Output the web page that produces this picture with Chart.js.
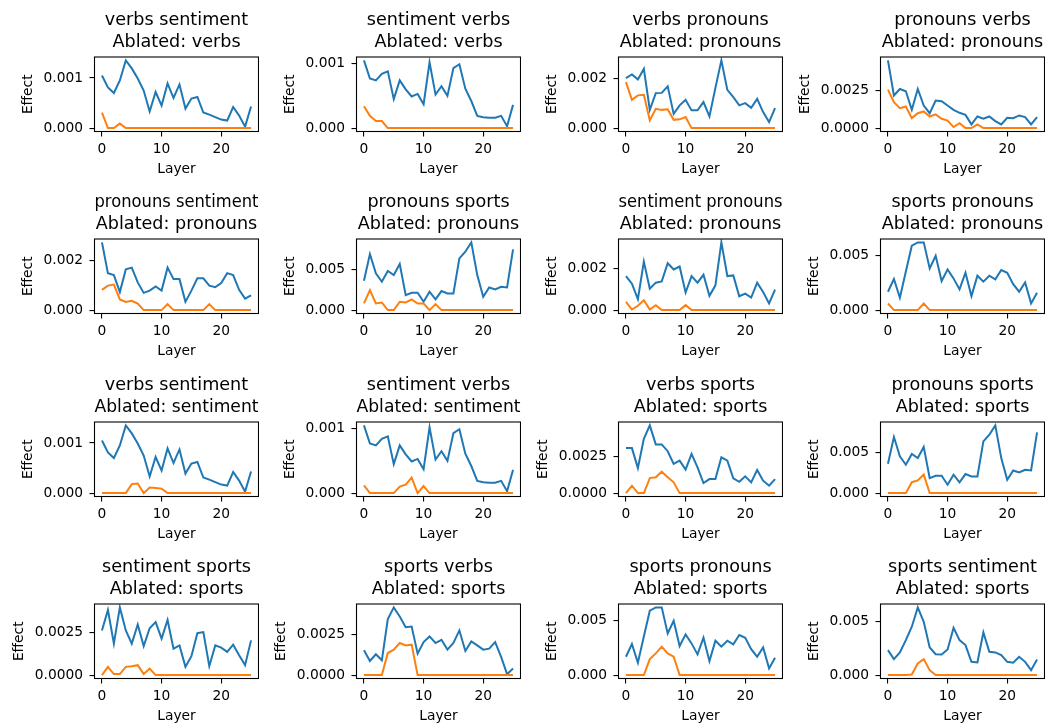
<!DOCTYPE html>
<html><head><meta charset="utf-8">
<script src="https://cdn.jsdelivr.net/npm/chart.js@4.4.1/dist/chart.umd.min.js"></script>
<style>
html,body{margin:0;padding:0;background:#fff;width:1045px;height:723px;overflow:hidden;}
.cell{position:absolute;width:259px;height:182px;}
canvas{display:block;}
</style></head><body>
<script>
// ---- data ----
const layers = [0,1,2,3,4,5,6,7,8,9,10,11,12,13,14,15,16,17,18,19,20,21,22,23,24,25];
const xTicks = [0, 10, 20];

// clean effects (blue)
const verbsSentimentClean   = [0.00105,0.00081,0.00070,0.00095,0.00135,0.00119,0.00099,0.00075,0.00033,0.00072,0.00045,0.00089,0.00060,0.00087,0.00039,0.00059,0.00062,0.00031,0.00027,0.00022,0.00017,0.00015,0.00042,0.00025,0.00003,0.00043];
const sentimentVerbsClean   = [0.00105,0.00077,0.00074,0.00084,0.00088,0.00045,0.00074,0.00060,0.00049,0.00053,0.00037,0.00102,0.00052,0.00065,0.00050,0.00093,0.00099,0.00061,0.00042,0.00019,0.00017,0.00016,0.00016,0.00019,0.00003,0.00036];
const verbsPronounsClean    = [0.00200,0.00215,0.00195,0.00237,0.00073,0.00140,0.00141,0.00167,0.00057,0.00091,0.00113,0.00071,0.00071,0.00104,0.00047,0.00161,0.00271,0.00153,0.00124,0.00091,0.00100,0.00081,0.00117,0.00064,0.00024,0.00080];
const pronounsVerbsClean    = [0.00455,0.00219,0.00263,0.00248,0.00123,0.00263,0.00152,0.00100,0.00185,0.00181,0.00152,0.00123,0.00103,0.00089,0.00025,0.00078,0.00063,0.00078,0.00047,0.00025,0.00069,0.00067,0.00085,0.00074,0.00025,0.00074];
const pronounsSentimentClean= [0.00271,0.00148,0.00140,0.00072,0.00163,0.00170,0.00111,0.00069,0.00078,0.00095,0.00078,0.00170,0.00124,0.00124,0.00033,0.00078,0.00127,0.00127,0.00098,0.00092,0.00108,0.00148,0.00140,0.00081,0.00046,0.00059];
const pronounsSportsClean   = [0.00358,0.00683,0.00447,0.00346,0.00476,0.00427,0.00561,0.00183,0.00211,0.00211,0.00102,0.00224,0.00130,0.00232,0.00203,0.00203,0.00630,0.00711,0.00825,0.00427,0.00163,0.00276,0.00252,0.00285,0.00276,0.00740];
const sentimentPronounsClean= [0.00165,0.00128,0.00053,0.00235,0.00104,0.00133,0.00139,0.00227,0.00197,0.00211,0.00085,0.00165,0.00133,0.00171,0.00069,0.00120,0.00328,0.00165,0.00168,0.00067,0.00080,0.00061,0.00133,0.00088,0.00032,0.00099];
const sportsPronounsClean   = [0.00167,0.00282,0.00112,0.00350,0.00585,0.00615,0.00615,0.00379,0.00494,0.00264,0.00370,0.00288,0.00188,0.00339,0.00127,0.00312,0.00258,0.00312,0.00279,0.00364,0.00339,0.00236,0.00167,0.00252,0.00061,0.00158];
const verbsSportsClean      = [0.00305,0.00305,0.00170,0.00368,0.00459,0.00330,0.00330,0.00284,0.00198,0.00220,0.00159,0.00266,0.00175,0.00068,0.00095,0.00095,0.00243,0.00220,0.00100,0.00077,0.00114,0.00073,0.00157,0.00084,0.00050,0.00095];
const sentimentSportsClean  = [0.00260,0.00379,0.00183,0.00394,0.00260,0.00183,0.00294,0.00169,0.00273,0.00308,0.00212,0.00321,0.00154,0.00173,0.00048,0.00110,0.00244,0.00250,0.00052,0.00173,0.00160,0.00135,0.00177,0.00115,0.00058,0.00202];
const sportsVerbsClean      = [0.00154,0.00088,0.00129,0.00092,0.00348,0.00420,0.00363,0.00297,0.00301,0.00133,0.00205,0.00240,0.00199,0.00219,0.00158,0.00199,0.00277,0.00150,0.00209,0.00184,0.00158,0.00164,0.00205,0.00113,0.00006,0.00041];
const sportsSentimentClean  = [0.00231,0.00148,0.00210,0.00324,0.00448,0.00627,0.00494,0.00256,0.00194,0.00191,0.00238,0.00438,0.00324,0.00278,0.00123,0.00117,0.00395,0.00216,0.00210,0.00185,0.00123,0.00114,0.00170,0.00123,0.00046,0.00145];

// ablated effects (orange)
const verbsSentimentAblVerbs        = [0.00031,0,0,0.00009,0,0,0,0,0,0,0,0,0,0,0,0,0,0,0,0,0,0,0,0,0,0];
const sentimentVerbsAblVerbs        = [0.00034,0.00019,0.00011,0.00011,0,0,0,0,0,0,0,0,0,0,0,0,0,0,0,0,0,0,0,0,0,0];
const verbsPronounsAblPronouns      = [0.00184,0.00113,0.00131,0.00133,0.00031,0.00077,0.00073,0.00075,0.00033,0.00035,0.00044,0,0,0,0,0,0,0,0,0,0,0,0,0,0,0];
const pronounsVerbsAblPronouns      = [0.00259,0.00174,0.00134,0.00145,0.00067,0.00100,0.00112,0.00078,0.00092,0.00063,0.00051,0.00007,0.00033,0,0,0.00025,0,0,0,0,0,0,0,0,0,0];
const pronounsSentimentAblPronouns  = [0.00081,0.00098,0.00102,0.00043,0.00033,0.00037,0.00026,0,0,0,0,0.00024,0,0,0,0,0,0,0.00024,0,0,0,0,0,0,0];
const pronounsSportsAblPronouns     = [0.00081,0.00244,0.00081,0.00093,0,0,0.00102,0.00093,0.00130,0.00081,0.00081,0,0.00073,0,0,0,0,0,0,0,0,0,0,0,0,0];
const sentimentPronounsAblPronouns  = [0.00040,0.00003,0.00021,0.00048,0.00003,0.00024,0,0,0,0,0.00024,0,0,0,0,0,0,0,0,0,0,0,0,0,0,0];
const sportsPronounsAblPronouns     = [0.00060,0,0,0,0,0,0.00060,0,0,0,0,0,0,0,0,0,0,0,0,0,0,0,0,0,0,0];
const verbsSentimentAblSentiment    = [0,0,0,0,0,0.00018,0.00019,0,0.00011,0.00010,0.00009,0,0,0,0,0,0,0,0,0,0,0,0,0,0,0];
const sentimentVerbsAblSentiment    = [0.00012,0,0,0,0,0,0.00010,0.00013,0.00024,0,0.00011,0,0,0,0,0,0,0,0,0,0,0,0,0,0,0];
const verbsSportsAblSports          = [0,0.00050,0,0,0.00102,0.00107,0.00145,0.00107,0.00073,0,0,0,0,0,0,0,0,0,0,0,0,0,0,0,0,0];
const pronounsSportsAblSports       = [0,0,0,0,0.00133,0.00154,0.00225,0,0,0,0,0,0,0,0,0,0,0,0,0,0,0,0,0,0,0];
const sentimentSportsAblSports      = [0,0.00048,0.00006,0.00006,0.00048,0.00052,0.00058,0.00006,0.00038,0,0,0,0,0,0,0,0,0,0,0,0,0,0,0,0,0];
const sportsVerbsAblSports          = [0,0,0,0,0.00137,0.00158,0.00199,0.00184,0.00189,0,0,0,0,0,0,0,0,0,0,0,0,0,0,0,0,0];
const sportsPronounsAblSports       = [0,0,0,0,0.00145,0.00197,0.00258,0.00197,0.00167,0,0,0,0,0,0,0,0,0,0,0,0,0,0,0,0,0];
const sportsSentimentAblSports      = [0,0,0,0,0.00006,0.00108,0.00148,0.00046,0,0,0,0,0,0,0,0,0,0,0,0,0,0,0,0,0,0];

// y tick values and labels
const ticks001 = [0, 0.001];   const labels001 = ['0.000', '0.001'];
const ticks002 = [0, 0.002];   const labels002 = ['0.000', '0.002'];
const ticks0025 = [0, 0.0025]; const labels0025 = ['0.0000', '0.0025'];
const ticks005 = [0, 0.005];   const labels005 = ['0.000', '0.005'];

const panels = [
  {title:'verbs sentiment',    ablated:'verbs',     clean:verbsSentimentClean,    abl:verbsSentimentAblVerbs,       yt:ticks001,  yl:labels001},
  {title:'sentiment verbs',    ablated:'verbs',     clean:sentimentVerbsClean,    abl:sentimentVerbsAblVerbs,       yt:ticks001,  yl:labels001},
  {title:'verbs pronouns',     ablated:'pronouns',  clean:verbsPronounsClean,     abl:verbsPronounsAblPronouns,     yt:ticks002,  yl:labels002},
  {title:'pronouns verbs',     ablated:'pronouns',  clean:pronounsVerbsClean,     abl:pronounsVerbsAblPronouns,     yt:ticks0025, yl:labels0025},
  {title:'pronouns sentiment', ablated:'pronouns',  clean:pronounsSentimentClean, abl:pronounsSentimentAblPronouns, yt:ticks002,  yl:labels002},
  {title:'pronouns sports',    ablated:'pronouns',  clean:pronounsSportsClean,    abl:pronounsSportsAblPronouns,    yt:ticks005,  yl:labels005},
  {title:'sentiment pronouns', ablated:'pronouns',  clean:sentimentPronounsClean, abl:sentimentPronounsAblPronouns, yt:ticks002,  yl:labels002},
  {title:'sports pronouns',    ablated:'pronouns',  clean:sportsPronounsClean,    abl:sportsPronounsAblPronouns,    yt:ticks005,  yl:labels005},
  {title:'verbs sentiment',    ablated:'sentiment', clean:verbsSentimentClean,    abl:verbsSentimentAblSentiment,   yt:ticks001,  yl:labels001},
  {title:'sentiment verbs',    ablated:'sentiment', clean:sentimentVerbsClean,    abl:sentimentVerbsAblSentiment,   yt:ticks001,  yl:labels001},
  {title:'verbs sports',       ablated:'sports',    clean:verbsSportsClean,       abl:verbsSportsAblSports,         yt:ticks0025, yl:labels0025},
  {title:'pronouns sports',    ablated:'sports',    clean:pronounsSportsClean,    abl:pronounsSportsAblSports,      yt:ticks005,  yl:labels005},
  {title:'sentiment sports',   ablated:'sports',    clean:sentimentSportsClean,   abl:sentimentSportsAblSports,     yt:ticks0025, yl:labels0025},
  {title:'sports verbs',       ablated:'sports',    clean:sportsVerbsClean,       abl:sportsVerbsAblSports,         yt:ticks0025, yl:labels0025},
  {title:'sports pronouns',    ablated:'sports',    clean:sportsPronounsClean,    abl:sportsPronounsAblSports,      yt:ticks005,  yl:labels005},
  {title:'sports sentiment',   ablated:'sports',    clean:sportsSentimentClean,   abl:sportsSentimentAblSports,     yt:ticks005,  yl:labels005}
];

// ---- layout ----
const colLeft = [0, 262, 524, 786];
const rowTop = [0, 182, 365, 547];
const CW = 259, CH = 182;
const AREA_LEFT = 94.5, AREA_RIGHT_PAD = 0.5, AXIS_X_H = 50.5;
const TICK_FONT = 13.8, TITLE_FONT = 17.6;

Chart.defaults.font.family = '"DejaVu Sans"';
Chart.defaults.color = '#000';

const framePlugin = {
  id: 'frame',
  afterDatasetsDraw(chart) {
    const {ctx, chartArea: a} = chart;
    ctx.save();
    ctx.strokeStyle = '#000';
    ctx.lineWidth = 1.1;
    ctx.strokeRect(a.left, a.top, a.right - a.left, a.bottom - a.top);
    ctx.restore();
  }
};

const mctx = document.createElement('canvas').getContext('2d');
mctx.font = TICK_FONT + 'px "DejaVu Sans"';

panels.forEach((p, i) => {
  const div = document.createElement('div');
  div.className = 'cell';
  div.style.left = colLeft[i % 4] + 'px';
  div.style.top = rowTop[Math.floor(i / 4)] + 'px';
  const cv = document.createElement('canvas');
  cv.width = CW; cv.height = CH;
  div.appendChild(cv);
  document.body.appendChild(div);

  const all = p.clean.concat(p.abl);
  const lo = Math.min(...all), hi = Math.max(...all), mg = (hi - lo) * 0.05;
  const wLab = Math.max(...p.yl.map(s => mctx.measureText(s).width));
  const yTitlePad = Math.max(0, AREA_LEFT - 27.5 - wLab - TICK_FONT * 1.2 / 2 + 0.9);

  new Chart(cv, {
    type: 'line',
    data: {
      datasets: [
        {data: layers.map((x, k) => ({x: x, y: p.clean[k]})), borderColor: '#1f77b4', borderWidth: 2, pointRadius: 0, tension: 0, fill: false, order: 2},
        {data: layers.map((x, k) => ({x: x, y: p.abl[k]})), borderColor: '#ff7f0e', borderWidth: 2, pointRadius: 0, tension: 0, fill: false, order: 1}
      ]
    },
    options: {
      responsive: false,
      animation: false,
      devicePixelRatio: 1,
      events: [],
      layout: {padding: {left: 0, right: AREA_RIGHT_PAD, top: 0, bottom: 0}},
      plugins: {
        legend: {display: false},
        tooltip: {enabled: false},
        title: {
          display: true, text: [p.title, 'Ablated: ' + p.ablated], fullSize: false, color: '#000',
          font: {size: TITLE_FONT, weight: 'normal', lineHeight: 1.25},
          padding: {top: 9.2, bottom: 3.8}
        }
      },
      scales: {
        x: {
          type: 'linear', min: -1.25, max: 26.25,
          afterBuildTicks: s => { s.ticks = xTicks.map(v => ({value: v})); },
          afterFit: s => { s.height = AXIS_X_H; },
          ticks: {font: {size: TICK_FONT}, padding: 5, maxRotation: 0, autoSkip: false, color: '#000', callback: v => String(v)},
          grid: {drawOnChartArea: false, drawTicks: true, tickLength: 5, color: '#000', lineWidth: 1.1},
          border: {display: false},
          title: {display: true, text: 'Layer', color: '#000', font: {size: TICK_FONT, lineHeight: 1.2}, padding: {top: 0, bottom: 4.7}}
        },
        y: {
          type: 'linear', min: lo - mg, max: hi + mg,
          afterBuildTicks: s => { s.ticks = p.yt.map(v => ({value: v})); },
          afterFit: s => { s.width = AREA_LEFT; },
          ticks: {font: {size: TICK_FONT}, padding: 6.5, color: '#000', autoSkip: false, callback: (v, idx) => p.yl[idx]},
          grid: {drawOnChartArea: false, drawTicks: true, tickLength: 5, color: '#000', lineWidth: 1.1},
          border: {display: false},
          title: {display: true, text: 'Effect', color: '#000', font: {size: TICK_FONT, lineHeight: 1.2}, padding: {top: yTitlePad, bottom: 0}}
        }
      }
    },
    plugins: [framePlugin]
  });
});
</script>
</body></html>
